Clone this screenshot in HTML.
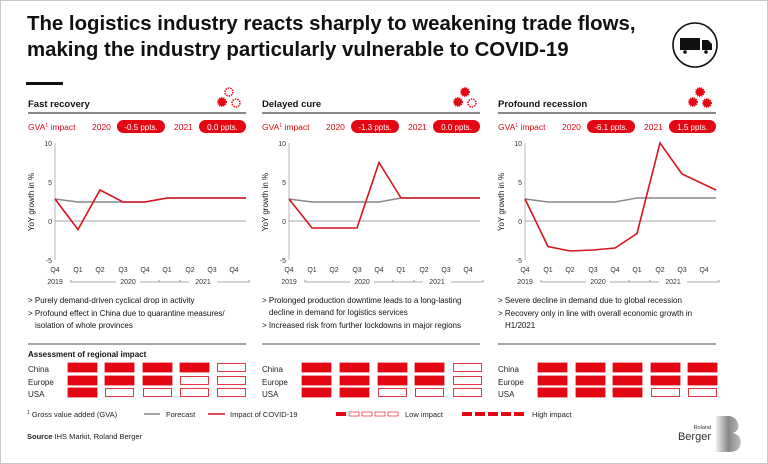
<!DOCTYPE html>
<html><head><meta charset="utf-8"><style>
html,body{margin:0;padding:0;background:#fff}
svg{display:block;font-family:"Liberation Sans",sans-serif}
</style></head><body>
<svg width="768" height="464" viewBox="0 0 768 464" xmlns="http://www.w3.org/2000/svg">
<rect x="0.5" y="0.5" width="767" height="463" fill="#fff" stroke="#c8c8c8"/>
<text x="27" y="30" font-size="20.4" font-weight="bold" fill="#111">The logistics industry reacts sharply to weakening trade flows,</text>
<text x="27" y="56" font-size="20.4" font-weight="bold" fill="#111">making the industry particularly vulnerable to COVID-19</text>
<rect x="26" y="82" width="37" height="3" fill="#111"/>
<circle cx="695" cy="45" r="22" fill="none" stroke="#111" stroke-width="1.6"/>
<rect x="680" y="38" width="20" height="12" fill="#111"/><path d="M702 40h6l4 4v6h-10z" fill="#111"/>
<circle cx="685" cy="52" r="1.8" fill="#111"/><circle cx="706" cy="52" r="1.8" fill="#111"/>

<defs>
<g id="panel">
<line x1="0" y1="113" x2="218" y2="113" stroke="#111" stroke-width="1"/>
<text x="0" y="130" font-size="8.5" fill="#e30613">GVA<tspan font-size="5" dy="-3">1</tspan><tspan dy="3"> impact</tspan></text>
<text x="64" y="130" font-size="8.5" fill="#e30613">2020</text>
<text x="146" y="130" font-size="8.5" fill="#e30613">2021</text>
<g font-size="7" fill="#333" text-anchor="end">
<text x="24" y="146">10</text>
<text x="24" y="185">5</text>
<text x="24" y="224">0</text>
<text x="24" y="263">-5</text>
</g>
<text transform="translate(6,202) rotate(-90)" font-size="8" fill="#111" text-anchor="middle">YoY growth in %</text>
<line x1="27" y1="143" x2="27" y2="260" stroke="#999" stroke-width="0.7"/>
<line x1="27" y1="221" x2="218" y2="221" stroke="#888" stroke-width="0.8"/>
<g font-size="7" fill="#333" text-anchor="middle">
<text x="27" y="272">Q4</text><text x="50" y="272">Q1</text><text x="72" y="272">Q2</text><text x="95" y="272">Q3</text><text x="117" y="272">Q4</text><text x="139" y="272">Q1</text><text x="162" y="272">Q2</text><text x="184" y="272">Q3</text><text x="206" y="272">Q4</text>
<text x="27" y="284">2019</text><text x="100" y="284">2020</text><text x="175" y="284">2021</text>
</g>
<path d="M43 280v2h45M112 282h40v-2M131 280v2h30M189 282h32v-2" fill="none" stroke="#555" stroke-width="0.6"/>
<line x1="0" y1="344" x2="218" y2="344" stroke="#111" stroke-width="0.8"/>
<text x="0" y="372" font-size="8" fill="#222">China</text>
<text x="0" y="385" font-size="8" fill="#222">Europe</text>
<text x="0" y="397" font-size="8" fill="#222">USA</text>
</g>
</defs>

<g transform="translate(28,0)">
<use href="#panel"/>
<text x="0" y="107" font-size="9.5" font-weight="bold" fill="#111">Fast recovery</text>
<rect x="89" y="120" width="48" height="13" rx="6.5" fill="#e30613"/><text x="113" y="130" font-size="8" fill="#fff" text-anchor="middle">-0.5 ppts.</text>
<rect x="171" y="120" width="47" height="13" rx="6.5" fill="#e30613"/><text x="194.5" y="130" font-size="8" fill="#fff" text-anchor="middle">0.0 ppts.</text>
<polyline points="27,199 50,202 72,202 95,202 117,202 139,198 162,198 184,198 218,198" fill="none" stroke="#888" stroke-width="1.4"/>
<polyline points="27,199 50,229.5 72,190 95,202 117,202 139,198 162,198 184,198 218,198" fill="none" stroke="#d7141e" stroke-width="1.6"/>
<g fill="#111" font-size="8">
<text x="0" y="303">&gt; Purely demand-driven cyclical drop in activity</text>
<text x="0" y="316">&gt; Profound effect in China due to quarantine measures/</text>
<text x="7" y="328">isolation of whole provinces</text>
</g>
<text x="0" y="357" font-size="8" font-weight="bold" fill="#111">Assessment of regional impact</text>
</g>

<g transform="translate(262,0)">
<use href="#panel"/>
<text x="0" y="107" font-size="9.5" font-weight="bold" fill="#111">Delayed cure</text>
<rect x="89" y="120" width="48" height="13" rx="6.5" fill="#e30613"/><text x="113" y="130" font-size="8" fill="#fff" text-anchor="middle">-1.3 ppts.</text>
<rect x="171" y="120" width="47" height="13" rx="6.5" fill="#e30613"/><text x="194.5" y="130" font-size="8" fill="#fff" text-anchor="middle">0.0 ppts.</text>
<polyline points="27,199 50,202 72,202 95,202 117,202 139,198 162,198 184,198 218,198" fill="none" stroke="#888" stroke-width="1.4"/>
<polyline points="27,199 50,228 72,228 95,228 117,162.5 139,198 162,198 184,198 218,198" fill="none" stroke="#d7141e" stroke-width="1.6"/>
<g fill="#111" font-size="8">
<text x="0" y="303">&gt; Prolonged production downtime leads to a long-lasting</text>
<text x="7" y="315">decline in demand for logistics services</text>
<text x="0" y="328">&gt; Increased risk from further lockdowns in major regions</text>
</g>
</g>

<g transform="translate(498,0)">
<use href="#panel"/>
<text x="0" y="107" font-size="9.5" font-weight="bold" fill="#111">Profound recession</text>
<rect x="89" y="120" width="48" height="13" rx="6.5" fill="#e30613"/><text x="113" y="130" font-size="8" fill="#fff" text-anchor="middle">-6.1 ppts.</text>
<rect x="171" y="120" width="47" height="13" rx="6.5" fill="#e30613"/><text x="194.5" y="130" font-size="8" fill="#fff" text-anchor="middle">1.5 ppts.</text>
<polyline points="27,199 50,202 72,202 95,202 117,202 139,198 162,198 184,198 218,198" fill="none" stroke="#888" stroke-width="1.4"/>
<polyline points="27,199 50,246.5 72,251 95,250 117,248 139,233.5 162,143 184,174 218,190" fill="none" stroke="#d7141e" stroke-width="1.6"/>
<g fill="#111" font-size="8">
<text x="0" y="303">&gt; Severe decline in demand due to global recession</text>
<text x="0" y="316">&gt; Recovery only in line with overall economic growth in</text>
<text x="7" y="328">H1/2021</text>
</g>
</g>

<g fill="none" stroke="#e30613" stroke-width="1.5" stroke-dasharray="1.5 1">
<circle cx="229" cy="92" r="4"/><circle cx="236" cy="103" r="4"/>
<circle cx="472" cy="103" r="4"/>
</g>
<g fill="#e30613" stroke="#e30613" stroke-width="2" stroke-dasharray="1 1">
<circle cx="222" cy="102" r="4"/>
<circle cx="465" cy="92" r="4"/><circle cx="458" cy="102" r="4"/>
<circle cx="700" cy="92" r="4"/><circle cx="693" cy="102" r="4"/><circle cx="707" cy="103" r="4"/>
</g>

<g stroke="#e30613" stroke-width="0.8">
<rect x="68" y="363" width="29" height="9" fill="#e30613"/><rect x="105" y="363" width="29" height="9" fill="#e30613"/><rect x="143" y="363" width="29" height="9" fill="#e30613"/><rect x="180" y="363" width="29" height="9" fill="#e30613"/><rect x="217.5" y="363.5" width="28" height="8" fill="none"/>
<rect x="68" y="376" width="29" height="9" fill="#e30613"/><rect x="105" y="376" width="29" height="9" fill="#e30613"/><rect x="143" y="376" width="29" height="9" fill="#e30613"/><rect x="180.5" y="376.5" width="28" height="8" fill="none"/><rect x="217.5" y="376.5" width="28" height="8" fill="none"/>
<rect x="68" y="388" width="29" height="9" fill="#e30613"/><rect x="105.5" y="388.5" width="28" height="8" fill="none"/><rect x="143.5" y="388.5" width="28" height="8" fill="none"/><rect x="180.5" y="388.5" width="28" height="8" fill="none"/><rect x="217.5" y="388.5" width="28" height="8" fill="none"/>
<rect x="302" y="363" width="29" height="9" fill="#e30613"/><rect x="340" y="363" width="29" height="9" fill="#e30613"/><rect x="378" y="363" width="29" height="9" fill="#e30613"/><rect x="415" y="363" width="29" height="9" fill="#e30613"/><rect x="453.5" y="363.5" width="28" height="8" fill="none"/>
<rect x="302" y="376" width="29" height="9" fill="#e30613"/><rect x="340" y="376" width="29" height="9" fill="#e30613"/><rect x="378" y="376" width="29" height="9" fill="#e30613"/><rect x="415" y="376" width="29" height="9" fill="#e30613"/><rect x="453.5" y="376.5" width="28" height="8" fill="none"/>
<rect x="302" y="388" width="29" height="9" fill="#e30613"/><rect x="340" y="388" width="29" height="9" fill="#e30613"/><rect x="378.5" y="388.5" width="28" height="8" fill="none"/><rect x="415.5" y="388.5" width="28" height="8" fill="none"/><rect x="453.5" y="388.5" width="28" height="8" fill="none"/>
<rect x="538" y="363" width="29" height="9" fill="#e30613"/><rect x="576" y="363" width="29" height="9" fill="#e30613"/><rect x="613" y="363" width="29" height="9" fill="#e30613"/><rect x="651" y="363" width="29" height="9" fill="#e30613"/><rect x="688" y="363" width="29" height="9" fill="#e30613"/>
<rect x="538" y="376" width="29" height="9" fill="#e30613"/><rect x="576" y="376" width="29" height="9" fill="#e30613"/><rect x="613" y="376" width="29" height="9" fill="#e30613"/><rect x="651" y="376" width="29" height="9" fill="#e30613"/><rect x="688" y="376" width="29" height="9" fill="#e30613"/>
<rect x="538" y="388" width="29" height="9" fill="#e30613"/><rect x="576" y="388" width="29" height="9" fill="#e30613"/><rect x="613" y="388" width="29" height="9" fill="#e30613"/><rect x="651.5" y="388.5" width="28" height="8" fill="none"/><rect x="688.5" y="388.5" width="28" height="8" fill="none"/>
</g>

<text x="27" y="417" font-size="7.5" fill="#222"><tspan font-size="5" dy="-3">1</tspan><tspan dy="3"> Gross value added (GVA)</tspan></text>
<line x1="144" y1="414" x2="160" y2="414" stroke="#888" stroke-width="1.5"/>
<text x="166" y="417" font-size="7.5" fill="#222">Forecast</text>
<line x1="208" y1="414" x2="225" y2="414" stroke="#d7141e" stroke-width="1.5"/>
<text x="230" y="417" font-size="7.5" fill="#222">Impact of COVID-19</text>
<rect x="336" y="412" width="10" height="4" fill="#e30613"/>
<g fill="none" stroke="#e30613" stroke-width="0.6"><rect x="349" y="412" width="10" height="4"/><rect x="362" y="412" width="10" height="4"/><rect x="375" y="412" width="10" height="4"/><rect x="388" y="412" width="10" height="4"/></g>
<text x="405" y="417" font-size="7.5" fill="#222">Low impact</text>
<g fill="#e30613"><rect x="462" y="412" width="10" height="4"/><rect x="475" y="412" width="10" height="4"/><rect x="488" y="412" width="10" height="4"/><rect x="501" y="412" width="10" height="4"/><rect x="514" y="412" width="10" height="4"/></g>
<text x="532" y="417" font-size="7.5" fill="#222">High impact</text>
<text x="27" y="439" font-size="7.5" fill="#222"><tspan font-weight="bold">Source</tspan> IHS Markit, Roland Berger</text>

<defs><linearGradient id="g" x1="0" x2="1"><stop offset="0" stop-color="#eee"/><stop offset="0.5" stop-color="#888"/><stop offset="1" stop-color="#bbb"/></linearGradient></defs>
<path d="M716 416h12c12 0 14 16 4 17c12 1 12 19-2 19h-14z" fill="url(#g)"/>
<text x="711" y="429" font-size="5.5" fill="#333" text-anchor="end">Roland</text>
<text x="711" y="440" font-size="11" fill="#333" text-anchor="end">Berger</text>
</svg>
</body></html>
